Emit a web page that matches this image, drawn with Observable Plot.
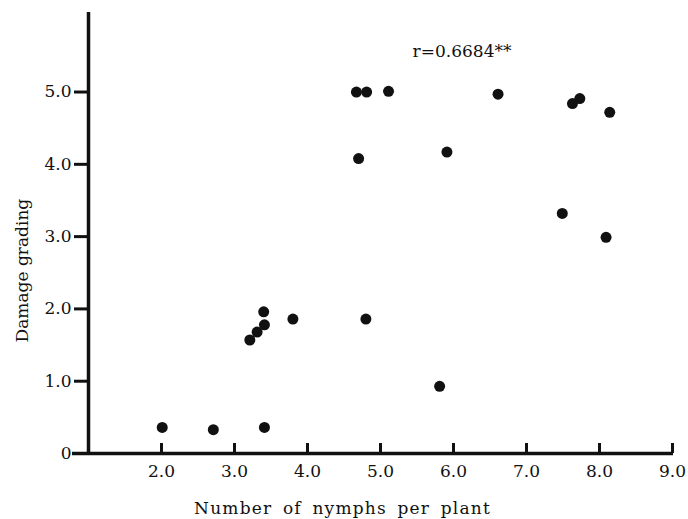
<!DOCTYPE html>
<html>
<head>
<meta charset="utf-8">
<script src="https://cdn.jsdelivr.net/npm/d3@7"></script>
<script src="https://cdn.jsdelivr.net/npm/@observablehq/plot@0.6"></script>
<style>
  html, body { margin: 0; padding: 0; background: #fff; }
  #chart svg { font-family: "DejaVu Serif", serif; }
  #chart svg .xlab text { letter-spacing: 1.2px; word-spacing: 4px; }
</style>
</head>
<body>
<div id="chart"></div>
<script>
// Data
const nymphs  = [2.01, 2.71, 3.41, 3.21, 3.31, 3.41, 3.40, 3.80, 4.80, 4.67, 4.81, 5.11, 4.70, 5.91, 5.81, 6.61, 7.49, 7.63, 7.73, 8.09, 8.14];
const damage  = [0.36, 0.33, 0.36, 1.57, 1.68, 1.78, 1.96, 1.86, 1.86, 5.00, 5.00, 5.01, 4.08, 4.17, 0.93, 4.97, 3.32, 4.84, 4.91, 2.99, 4.72];
const xTicks = [2, 3, 4, 5, 6, 7, 8, 9];
const yTicks = [0, 1, 2, 3, 4, 5];
const yTickLabels = ["0", "1.0", "2.0", "3.0", "4.0", "5.0"];
const xTitle = "Number of nymphs per plant";
const yTitle = "Damage grading";
const annotation = "r=0.6684**";
const annotationPos = {x: 5.44, y: 5.56};

const points = nymphs.map((x, i) => ({x, y: damage[i]}));

const W = 688, H = 519;
const mL = 88, mR = 16, mT = 12, mB = 66;
const frameH = H - mT - mB;

const chart = Plot.plot({
  width: W,
  height: H,
  marginLeft: mL,
  marginRight: mR,
  marginTop: mT,
  marginBottom: mB,
  style: {fontFamily: "DejaVu Serif, serif", fontSize: "17px", color: "#111", background: "#fff"},
  x: {domain: [1, 9]},
  y: {domain: [0, 6.1]},
  marks: [
    // x tick labels
    Plot.axisX({ticks: xTicks, tickSize: 0, tickPadding: 11, tickFormat: d => d.toFixed(1), label: null, fontSize: 17}),
    // y ticks and labels
    Plot.axisY({ticks: yTicks, tickSize: 14, tickPadding: 3, strokeWidth: 3, tickFormat: d => yTickLabels[yTicks.indexOf(d)], label: null, fontSize: 17}),
    // inward x ticks
    Plot.tickX(xTicks, {x: d => d, insetTop: frameH - 10, strokeWidth: 3, stroke: "#111"}),
    // axis lines
    Plot.ruleY([0], {insetLeft: -16, insetRight: -1, strokeWidth: 3.5, stroke: "#111"}),
    Plot.ruleX([1], {strokeWidth: 3.5, stroke: "#111"}),
    // points
    Plot.dot(points, {x: "x", y: "y", r: 5.5, fill: "#111", stroke: "none"}),
    // annotation
    Plot.text([annotation], {text: d => d, x: () => annotationPos.x, y: () => annotationPos.y, textAnchor: "start", fontSize: 17, fill: "#111"}),
    // axis titles
    Plot.text([xTitle], {text: d => d, x: () => 4.48, frameAnchor: "bottom", lineAnchor: "middle", dy: 55, fontSize: 17, fill: "#111", className: "xlab"}),
    Plot.text([yTitle], {text: d => d, y: () => 2.53, frameAnchor: "left", textAnchor: "middle", dx: -66, rotate: -90, fontSize: 17, fill: "#111"})
  ]
});

document.getElementById("chart").appendChild(chart);
</script>
</body>
</html>
